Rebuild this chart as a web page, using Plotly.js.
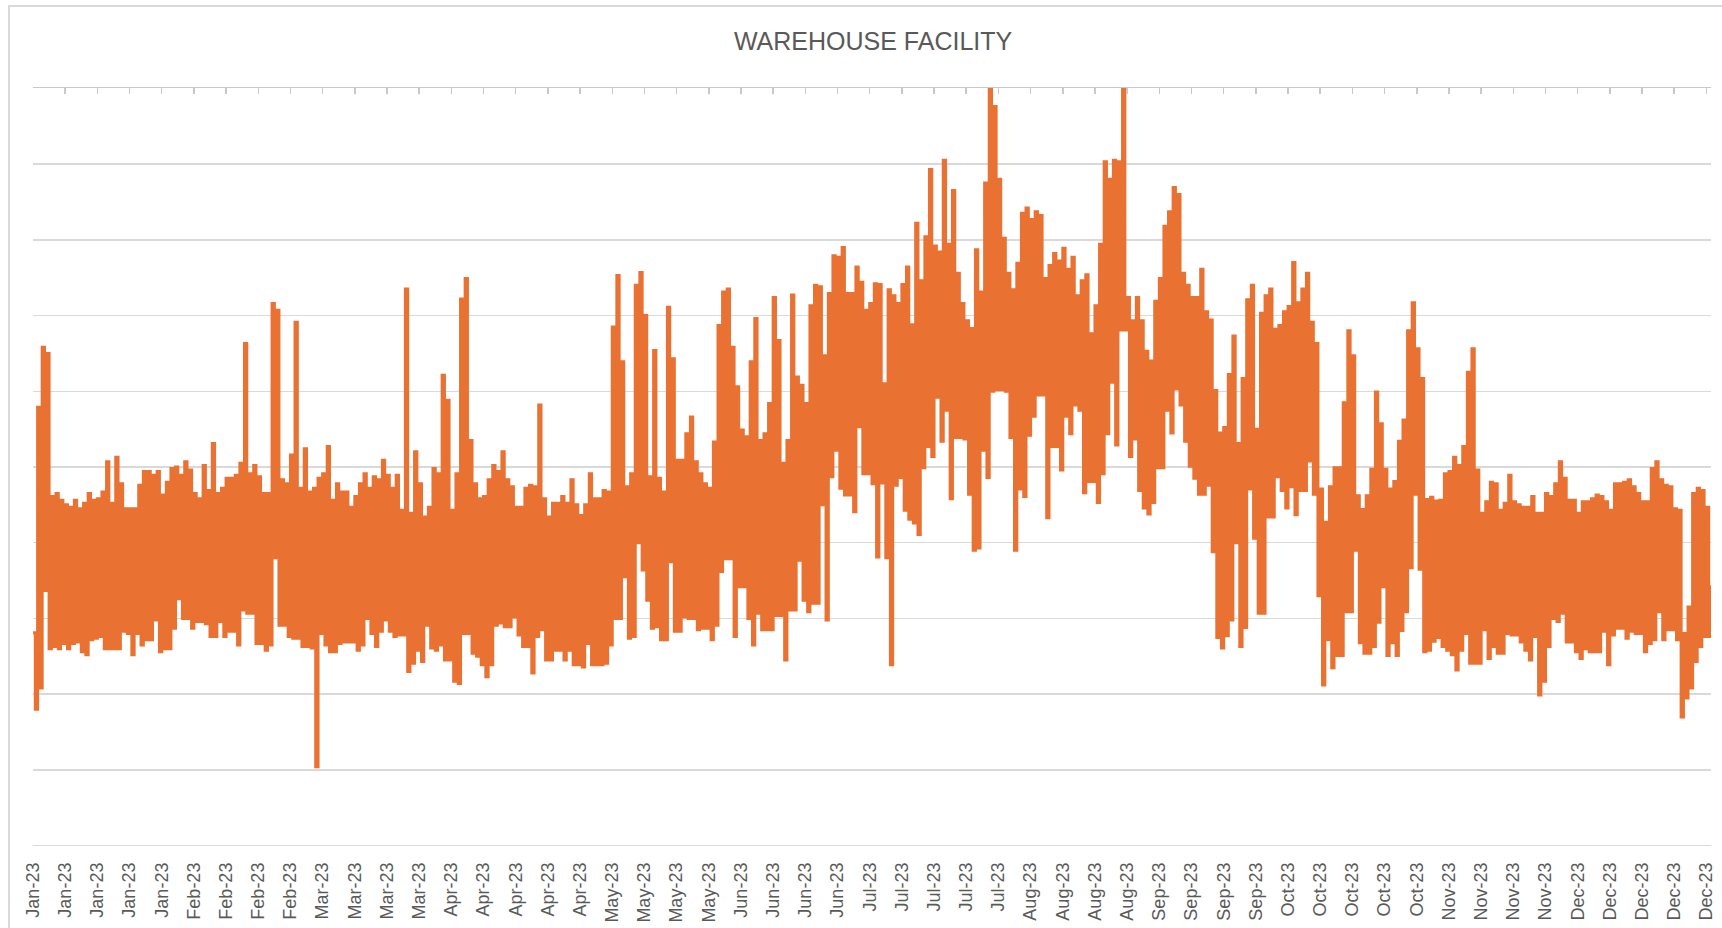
<!DOCTYPE html>
<html>
<head>
<meta charset="utf-8">
<script src="https://cdn.plot.ly/plotly-3.0.1.min.js"></script>
<style>
  html, body { margin: 0; padding: 0; background: #ffffff; }
  #chart { width: 1722px; height: 928px; }
  #frame { position: absolute; left: 8px; top: 5px; width: 1714px; height: 923px;
           border-left: 2px solid #d9d9d9; border-top: 2px solid #d9d9d9; pointer-events: none; box-sizing: border-box; }
</style>
</head>
<body>
<div id="chart"></div>
<div id="frame"></div>
<script>
// Week tick labels (one per week, Jan 1 .. Dec 31, 2023)
const weekLabels = [
  "Jan-23","Jan-23","Jan-23","Jan-23","Jan-23",
  "Feb-23","Feb-23","Feb-23","Feb-23",
  "Mar-23","Mar-23","Mar-23","Mar-23",
  "Apr-23","Apr-23","Apr-23","Apr-23","Apr-23",
  "May-23","May-23","May-23","May-23",
  "Jun-23","Jun-23","Jun-23","Jun-23",
  "Jul-23","Jul-23","Jul-23","Jul-23","Jul-23",
  "Aug-23","Aug-23","Aug-23","Aug-23",
  "Sep-23","Sep-23","Sep-23","Sep-23",
  "Oct-23","Oct-23","Oct-23","Oct-23","Oct-23",
  "Nov-23","Nov-23","Nov-23","Nov-23",
  "Dec-23","Dec-23","Dec-23","Dec-23","Dec-23"
];

// Daily peak load (day 0 = Jan 1)
const dailyHigh = [
  28.1,57.9,65.8,65.0,46.1,46.5,45.6,45.0,44.7,45.6,
  44.5,45.2,46.5,45.6,45.8,46.7,50.7,45.2,51.3,47.8,
  44.5,44.5,44.5,47.6,49.4,49.4,48.9,49.4,46.3,48.0,
  49.8,50.0,48.9,50.7,49.6,46.5,45.8,50.2,46.9,53.1,
  46.5,47.2,48.5,48.5,48.9,50.5,66.3,49.1,50.2,48.7,
  46.5,46.5,71.6,70.7,48.3,47.8,51.6,69.1,47.2,52.4,
  46.7,47.2,48.5,49.1,52.7,45.6,47.8,46.7,46.7,44.7,
  46.1,47.8,49.1,47.2,48.7,48.3,50.9,48.9,47.2,48.9,
  44.3,73.5,43.9,52.0,47.8,43.4,44.7,49.8,49.1,62.1,
  58.8,44.3,49.1,72.2,74.9,53.5,47.8,45.8,46.1,48.3,
  50.2,49.4,52.0,48.3,47.4,44.7,44.7,47.2,47.6,47.4,
  58.2,45.8,43.4,45.2,45.2,46.1,45.2,48.3,45.0,43.6,
  45.0,49.1,45.8,45.8,46.9,46.7,68.5,75.3,63.9,47.4,
  49.1,74.0,75.7,70.0,48.7,65.4,48.5,46.7,71.1,64.3,
  50.9,50.9,54.4,56.6,50.7,49.1,47.8,47.2,53.3,68.7,
  73.1,73.5,65.8,60.6,54.9,54.0,63.9,69.6,53.5,54.4,
  58.4,72.4,66.7,50.5,53.5,72.7,61.9,60.8,58.4,71.3,
  74.0,73.8,64.7,72.9,77.9,77.7,79.0,72.9,72.9,76.4,
  74.4,70.7,71.6,74.2,74.1,61.0,73.4,72.6,71.6,74.1,
  76.4,68.8,82.2,74.6,80.4,89.3,79.2,78.4,90.5,79.4,
  86.5,75.6,71.6,69.3,68.3,78.7,73.1,87.5,100.0,97.6,
  88.0,80.2,75.6,73.4,76.9,83.5,84.2,82.7,83.7,83.2,
  74.9,76.6,78.2,77.2,78.9,76.1,77.7,72.6,74.6,75.4,
  67.6,71.3,79.4,90.3,88.0,90.5,90.3,100.0,72.4,69.3,
  72.4,69.3,65.3,64.0,71.9,74.9,81.8,83.7,86.9,86.0,
  75.6,74.0,72.4,72.4,76.1,70.5,69.4,60.1,54.5,55.2,
  62.2,67.3,53.1,61.7,72.1,74.0,55.0,70.3,72.6,73.5,
  68.2,68.7,70.5,71.2,77.0,71.7,73.5,75.6,69.1,66.3,
  47.1,42.7,47.4,49.9,49.9,58.5,68.0,64.7,46.2,44.4,
  46.2,49.7,59.9,55.7,49.7,47.1,48.1,53.4,56.2,68.0,
  71.7,65.6,61.7,45.7,46.0,45.5,45.6,49.1,49.4,51.3,
  50.2,52.7,62.5,65.6,49.6,43.9,45.4,48.0,47.8,44.3,
  45.2,48.9,45.4,45.0,44.7,44.7,46.1,43.9,43.9,46.5,
  46.1,47.8,50.7,48.5,45.6,45.6,43.9,45.4,45.4,45.8,
  46.3,46.1,45.4,44.3,47.8,47.8,48.0,48.3,47.4,46.5,
  45.4,45.4,49.8,50.7,48.3,47.6,47.4,44.5,44.3,28.0,
  31.5,46.5,47.2,46.9,44.7,34.2
];

// Daily base load (day 0 = Jan 1)
const dailyLow = [
  18.0,20.8,33.7,26.0,26.3,26.0,26.7,26.0,26.7,26.9,
  25.6,25.2,27.2,27.4,27.6,26.0,26.0,26.0,26.0,28.3,
  28.0,25.2,28.0,26.5,27.2,27.2,29.8,25.6,26.0,26.0,
  28.7,32.6,30.0,30.0,28.7,29.6,29.6,29.3,27.6,27.6,
  29.6,27.6,28.3,28.3,26.5,31.1,30.7,30.7,26.7,26.7,
  25.8,26.5,38.0,29.1,29.1,27.6,27.4,27.4,26.3,26.3,
  26.1,10.4,28.0,26.5,25.6,25.6,26.7,26.9,26.9,26.9,
  25.8,26.5,30.0,28.0,26.3,28.3,29.8,28.3,27.6,27.8,
  27.8,23.0,24.1,25.8,24.3,29.1,26.1,25.8,26.5,24.5,
  24.5,21.7,21.4,28.0,28.0,25.4,25.0,23.9,22.3,23.9,
  29.1,29.4,28.9,28.9,30.2,27.8,26.3,26.3,22.8,27.6,
  28.5,24.5,24.5,25.8,25.8,24.5,25.8,23.9,23.9,23.6,
  26.7,23.9,23.9,23.9,24.1,26.5,30.0,30.0,35.5,27.4,
  27.6,40.0,36.4,32.4,28.7,28.9,27.2,27.2,37.5,28.3,
  28.3,30.2,30.0,30.0,28.5,28.7,28.7,27.2,29.1,36.2,
  37.9,37.9,27.6,34.2,34.2,30.0,26.5,30.7,28.5,28.5,
  28.5,30.4,30.4,24.5,31.1,31.1,37.7,32.4,30.9,32.0,
  32.0,45.0,29.8,48.7,52.2,47.2,46.3,46.3,44.1,55.3,
  49.1,49.1,47.8,38.1,47.9,38.0,23.9,47.6,48.6,44.3,
  43.1,42.6,41.1,49.9,52.7,51.4,59.2,53.4,57.5,45.8,
  53.9,53.9,53.7,46.4,39.0,39.3,52.2,48.6,60.0,60.2,
  60.2,60.0,53.9,39.0,47.1,46.1,54.2,56.7,59.5,59.5,
  43.3,52.7,52.7,49.6,56.7,54.4,58.2,57.5,46.6,48.1,
  48.1,45.3,49.1,54.4,61.2,52.9,68.1,68.1,51.4,53.7,
  46.9,44.6,43.8,45.3,49.9,49.9,57.5,54.5,60.3,58.2,
  53.4,50.1,48.5,46.4,46.4,47.6,38.8,27.5,26.1,27.7,
  29.8,40.0,26.3,28.8,47.1,40.6,30.7,30.7,43.4,43.4,
  48.7,46.9,44.6,47.4,43.7,46.9,46.9,50.8,46.4,33.0,
  21.2,27.2,23.5,25.1,25.1,30.9,30.9,39.0,26.8,25.4,
  25.4,26.3,29.5,34.2,25.1,26.8,25.1,28.4,30.9,36.7,
  46.4,36.5,25.6,25.8,27.0,27.5,26.3,25.8,25.2,23.2,
  25.8,28.0,24.1,24.1,24.1,28.5,24.7,26.3,25.4,25.4,
  28.0,27.8,27.8,26.9,25.8,24.5,27.6,19.9,21.7,26.3,
  30.0,29.6,30.7,26.9,26.9,25.6,24.7,26.0,25.6,25.6,
  25.6,28.3,23.9,27.8,28.7,28.7,27.4,28.3,28.0,28.0,
  25.6,26.7,27.2,30.9,27.2,28.5,28.5,27.2,17.0,19.5,
  20.8,24.3,26.3,27.6,27.6,22.5
];

// Build the intraday sequence: peak then base for each day
const xs = [], ys = [];
for (let d = 0; d < dailyHigh.length; d++) {
  xs.push(d);        ys.push(dailyHigh[d]);
  xs.push(d + 0.5);  ys.push(dailyLow[d]);
}
const tickPos = weekLabels.map((_, i) => i * 7);

const trace = {
  x: xs, y: ys, type: 'scatter', mode: 'lines',
  line: { color: '#E97132', width: 3, shape: 'hv', simplify: false },
  hoverinfo: 'skip', showlegend: false
};

// invisible trace so the top axis (line + ticks) gets drawn
const topAxisTrace = {
  x: [0, 365], y: [null, null], xaxis: 'x2', yaxis: 'y', type: 'scatter', mode: 'lines',
  hoverinfo: 'skip', showlegend: false
};

const layout = {
  width: 1722, height: 928,
  margin: { l: 33, r: 11, t: 88, b: 82 },
  paper_bgcolor: '#ffffff', plot_bgcolor: '#ffffff',
  title: {
    text: 'WAREHOUSE FACILITY',
    font: { family: 'Liberation Sans, Arial, sans-serif', size: 25, color: '#595959' },
    x: 0.507, xanchor: 'center', xref: 'container',
    y: 1 - 41 / 928, yanchor: 'middle', yref: 'container'
  },
  xaxis: {
    range: [0, 365], tickmode: 'array', tickvals: tickPos, ticktext: weekLabels,
    tickangle: -90, ticks: '', showgrid: false, zeroline: false, showline: false,
    tickfont: { family: 'Liberation Sans, Arial, sans-serif', size: 18, color: '#595959' },
    ticklabelstandoff: 12
  },
  xaxis2: {
    overlaying: 'x', side: 'top', anchor: 'y', range: [0, 365],
    tickmode: 'array', tickvals: tickPos, showticklabels: false,
    ticks: 'inside', ticklen: 6, tickwidth: 1.5, tickcolor: '#c8c8c8',
    showline: true, linecolor: '#c8c8c8', linewidth: 1.5,
    showgrid: false, zeroline: false
  },
  yaxis: {
    range: [-0.05, 100.05], dtick: 10, tick0: 0, showticklabels: false,
    gridcolor: '#d9d9d9', gridwidth: 1.5, showline: false, ticks: '',
    zeroline: true, zerolinecolor: '#d9d9d9', zerolinewidth: 1.5
  }
};

Plotly.newPlot('chart', [trace, topAxisTrace], layout, { displayModeBar: false, staticPlot: true });
</script>
</body>
</html>
